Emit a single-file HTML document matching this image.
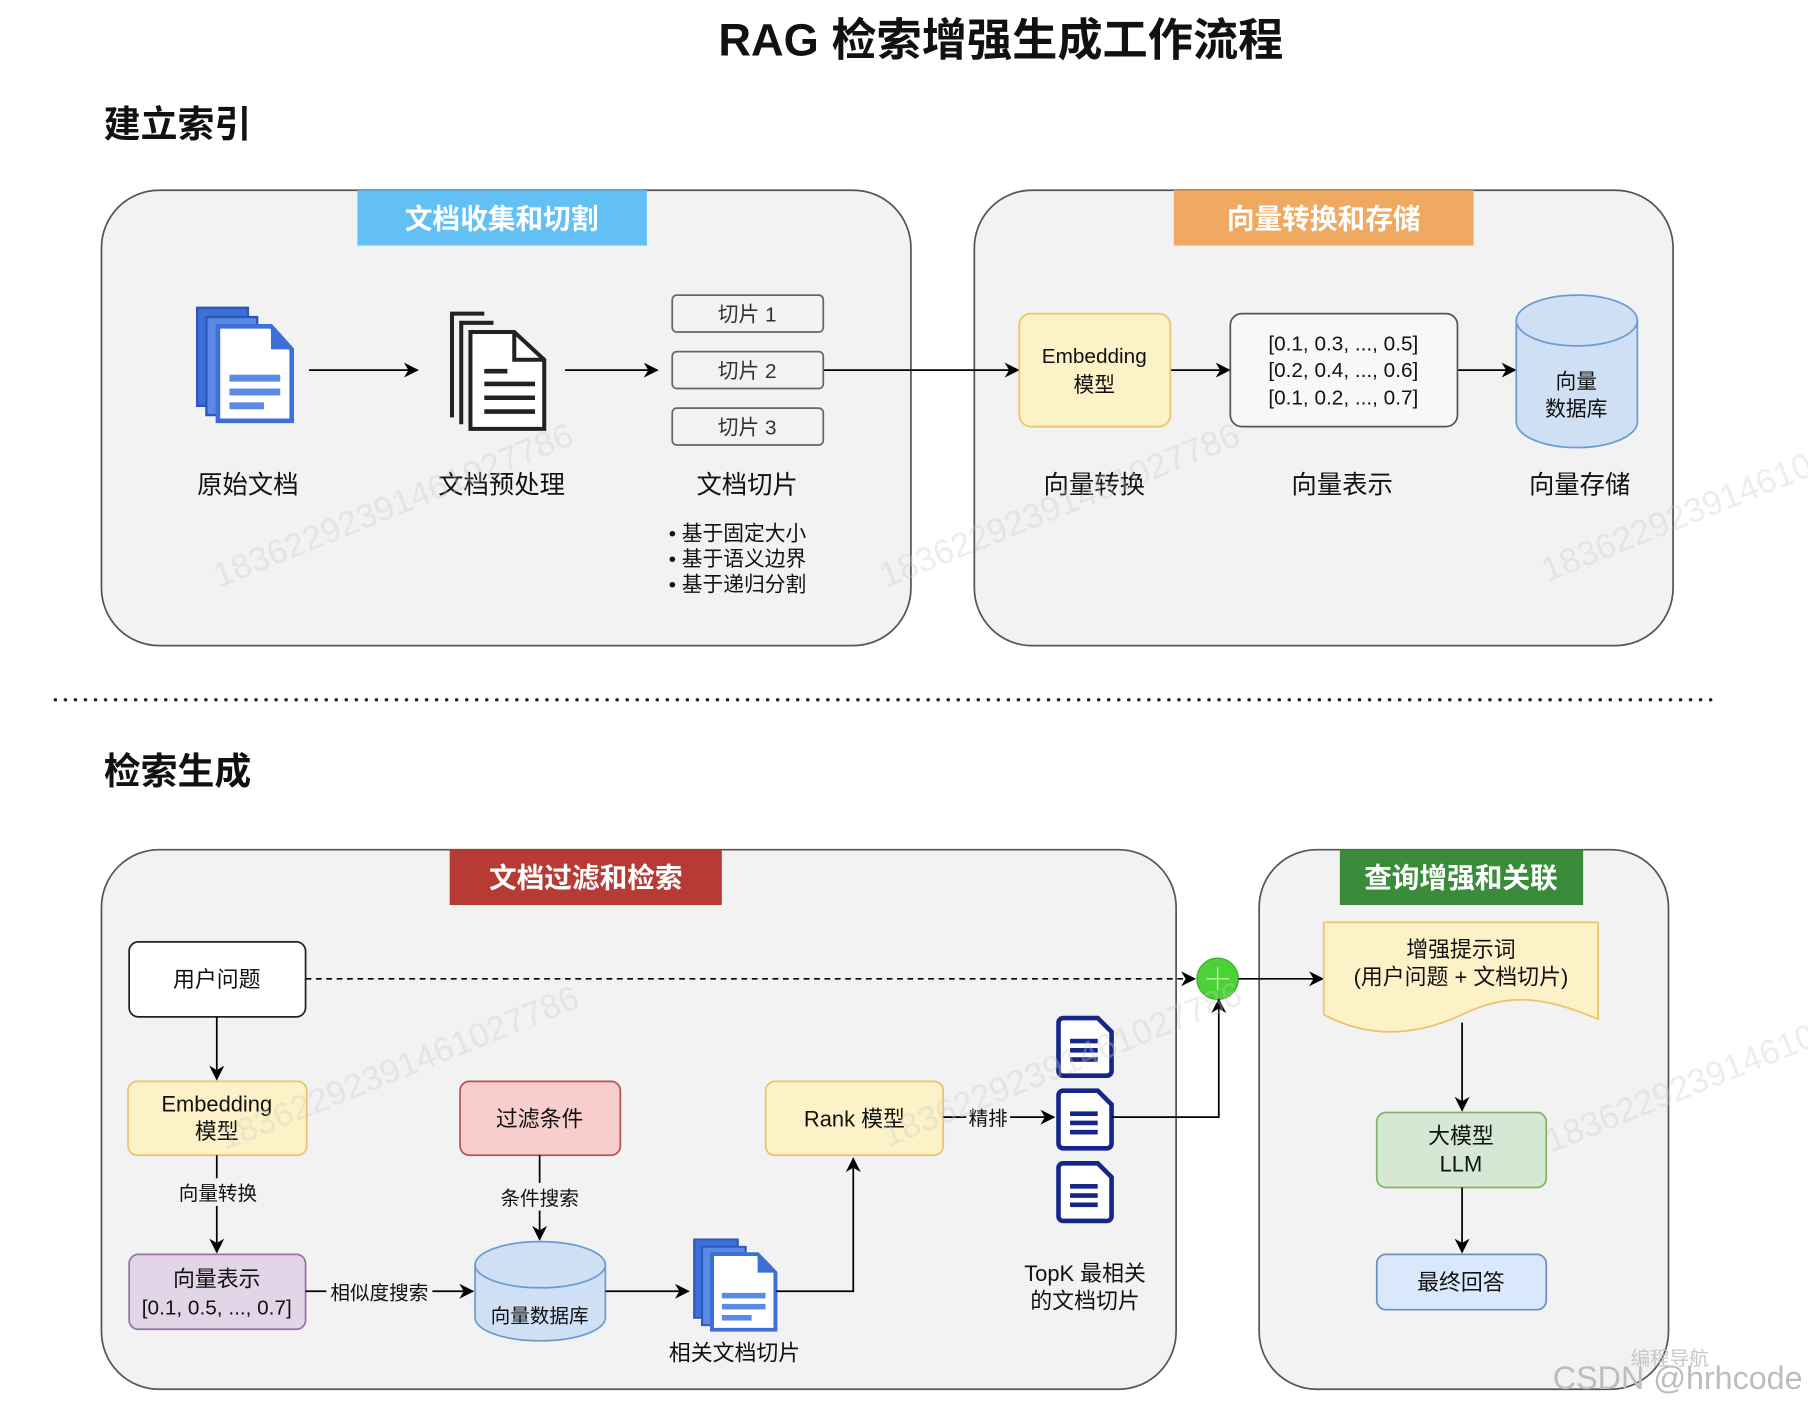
<!DOCTYPE html>
<html><head><meta charset="utf-8"><style>
html,body{margin:0;padding:0;background:#fff;width:1808px;height:1410px;overflow:hidden}
svg{display:block}
text{font-family:"Liberation Sans","Noto Sans CJK SC",sans-serif;fill:#111}
</style></head><body>
<svg width="1808" height="1410" viewBox="0 0 1568 1223" preserveAspectRatio="none" xmlns="http://www.w3.org/2000/svg">
<defs>
<marker id="ar2" viewBox="0 0 10 10" refX="9" refY="5" markerWidth="13" markerHeight="13" orient="auto" markerUnits="userSpaceOnUse"><path d="M0,0 L10,5 L0,10 L3,5 z" fill="#000"/></marker>
<g id="bdoc">
<path d="M0,0 h44 l0,85 h-44z" fill="#3d6fd6" stroke="#2a56b8" stroke-width="2"/>
<path d="M8,8 h44 l0,85 h-44z" fill="#5a8ae6" stroke="#2a56b8" stroke-width="2"/>
<path d="M18,16 h46 l18,20 v62 h-64z" fill="#fff" stroke="#3d6fd6" stroke-width="4"/>
<path d="M64,16 v20 h18z" fill="#3d6fd6"/>
<rect x="28" y="58" width="44" height="6" fill="#5a8ae6"/><rect x="28" y="70" width="44" height="6" fill="#5a8ae6"/><rect x="28" y="82" width="30" height="6" fill="#5a8ae6"/>
</g>
<g id="ndoc">
<path d="M0,4 a4,4 0 0 1 4,-4 h30 l12,12 v34 a4,4 0 0 1 -4,4 h-38 a4,4 0 0 1 -4,-4z" fill="#fff" stroke="#15268a" stroke-width="4"/>
<rect x="10" y="18" width="24" height="4" fill="#15268a"/><rect x="10" y="26" width="24" height="4" fill="#15268a"/><rect x="10" y="34" width="24" height="4" fill="#15268a"/>
</g>
</defs>
<text x="868" y="48" text-anchor="middle" font-size="39" font-weight="bold" textLength="490" lengthAdjust="spacingAndGlyphs">RAG 检索增强生成工作流程</text>
<text x="90" y="119" font-size="32" font-weight="bold">建立索引</text>
<text x="90" y="680" font-size="32" font-weight="bold">检索生成</text>

<rect x="88" y="165" width="702" height="395" rx="50" fill="#f2f2f2" stroke="#555" stroke-width="1.5"/>
<rect x="845" y="165" width="606" height="395" rx="50" fill="#f2f2f2" stroke="#555" stroke-width="1.5"/>
<rect x="310" y="165" width="251" height="48" fill="#63c0f5"/>
<text x="435" y="198" text-anchor="middle" font-size="24" font-weight="bold" style="fill:#fff">文档收集和切割</text>
<rect x="1018" y="165" width="260" height="48" fill="#f0a960"/>
<text x="1148" y="198" text-anchor="middle" font-size="24" font-weight="bold" style="fill:#fff">向量转换和存储</text>

<use href="#bdoc" x="171" y="267"/>
<g fill="none" stroke="#222" stroke-width="3.5">
<path d="M392,362 V272 h28"/><path d="M400,368 V280 h28"/>
<path d="M408,288 h38 l26,24 v60 h-64z" fill="#fff"/><path d="M446,288 v24 h26"/>
</g>
<g stroke="#222" stroke-width="4"><line x1="420" y1="322" x2="440" y2="322"/><line x1="420" y1="333" x2="464" y2="333"/><line x1="420" y1="345" x2="464" y2="345"/><line x1="420" y1="357" x2="464" y2="357"/></g>

<g stroke="#000" stroke-width="1.5" fill="none">
<line x1="268" y1="321" x2="362" y2="321" marker-end="url(#ar2)"/>
<line x1="490" y1="321" x2="570" y2="321" marker-end="url(#ar2)"/>
<line x1="714" y1="321" x2="883" y2="321" marker-end="url(#ar2)"/>
<line x1="1015" y1="321" x2="1066" y2="321" marker-end="url(#ar2)"/>
<line x1="1264" y1="321" x2="1314" y2="321" marker-end="url(#ar2)"/>
</g>
<g fill="#f2f2f2" stroke="#666" stroke-width="1.5">
<rect x="583" y="256" width="131" height="32" rx="4"/><rect x="583" y="305" width="131" height="32" rx="4"/><rect x="583" y="354" width="131" height="32" rx="4"/>
</g>
<g font-size="18" text-anchor="middle"><text x="648" y="279" style="fill:#333">切片 1</text><text x="648" y="328" style="fill:#333">切片 2</text><text x="648" y="377" style="fill:#333">切片 3</text></g>

<rect x="884" y="272" width="131" height="98" rx="10" fill="#fdf1c8" stroke="#e8c46a" stroke-width="1.5"/>
<text x="949" y="315" text-anchor="middle" font-size="18">Embedding</text><text x="949" y="340" text-anchor="middle" font-size="18">模型</text>
<rect x="1067" y="272" width="197" height="98" rx="10" fill="#f8f8f8" stroke="#555" stroke-width="1.5"/>
<g font-size="18" text-anchor="middle"><text x="1165" y="304">[0.1, 0.3, ..., 0.5]</text><text x="1165" y="327">[0.2, 0.4, ..., 0.6]</text><text x="1165" y="351">[0.1, 0.2, ..., 0.7]</text></g>
<path d="M1315,278 V366 a52,22 0 0 0 105,0 V278" fill="#cfe0f5" stroke="#6c9bd2" stroke-width="1.5"/>
<ellipse cx="1367.5" cy="278" rx="52.5" ry="22" fill="#cfe0f5" stroke="#6c9bd2" stroke-width="1.5"/>
<text x="1367" y="337" text-anchor="middle" font-size="18">向量</text><text x="1367" y="361" text-anchor="middle" font-size="18">数据库</text>

<g font-size="22" text-anchor="middle"><text x="215" y="428">原始文档</text><text x="435" y="428">文档预处理</text><text x="648" y="428">文档切片</text><text x="949" y="428">向量转换</text><text x="1164" y="428">向量表示</text><text x="1370" y="428">向量存储</text></g>
<g font-size="18"><text x="580" y="469">• 基于固定大小</text><text x="580" y="491">• 基于语义边界</text><text x="580" y="513">• 基于递归分割</text></g>

<line x1="48" y1="607" x2="1487" y2="607" stroke="#222" stroke-width="3" stroke-dasharray="0.1 8.6" stroke-linecap="round"/>

<rect x="88" y="737" width="932" height="468" rx="50" fill="#f2f2f2" stroke="#555" stroke-width="1.5"/>
<rect x="1092" y="737" width="355" height="468" rx="50" fill="#f2f2f2" stroke="#555" stroke-width="1.5"/>
<rect x="390" y="737" width="236" height="48" fill="#b83a34"/>
<text x="508" y="770" text-anchor="middle" font-size="24" font-weight="bold" style="fill:#fff">文档过滤和检索</text>
<rect x="1162" y="737" width="211" height="48" fill="#3a8c3a"/>
<text x="1267" y="770" text-anchor="middle" font-size="24" font-weight="bold" style="fill:#fff">查询增强和关联</text>

<rect x="112" y="817" width="153" height="65" rx="8" fill="#fff" stroke="#222" stroke-width="1.5"/>
<text x="188" y="856" text-anchor="middle" font-size="19">用户问题</text>
<line x1="265" y1="849" x2="1036" y2="849" stroke="#000" stroke-width="1.5" stroke-dasharray="5 4" marker-end="url(#ar2)"/>
<circle cx="1056" cy="849" r="18" fill="#4cd137" stroke="#3aa82a"/>
<path d="M1046,849 h20 M1056,839 v20" stroke="#b8f0a8" stroke-width="1.2"/>
<line x1="1074" y1="849" x2="1147" y2="849" stroke="#000" stroke-width="1.5" marker-end="url(#ar2)"/>
<path d="M1148,800 H1386 V884 C1340,865 1310,860 1268,880 C1225,900 1185,900 1148,880 Z" fill="#fdf1c8" stroke="#e8c46a" stroke-width="1.5"/>
<text x="1267" y="830" text-anchor="middle" font-size="19">增强提示词</text>
<text x="1267" y="854" text-anchor="middle" font-size="19">(用户问题 + 文档切片)</text>
<line x1="1268" y1="887" x2="1268" y2="963" stroke="#000" stroke-width="1.5" marker-end="url(#ar2)"/>
<rect x="1194" y="965" width="147" height="65" rx="8" fill="#d5e8d4" stroke="#82b366" stroke-width="1.5"/>
<text x="1267" y="992" text-anchor="middle" font-size="19">大模型</text><text x="1267" y="1016" text-anchor="middle" font-size="19">LLM</text>
<line x1="1268" y1="1030" x2="1268" y2="1086" stroke="#000" stroke-width="1.5" marker-end="url(#ar2)"/>
<rect x="1194" y="1088" width="147" height="48" rx="8" fill="#dae8fc" stroke="#6c8ebf" stroke-width="1.5"/>
<text x="1267" y="1119" text-anchor="middle" font-size="19">最终回答</text>

<line x1="188" y1="882" x2="188" y2="936" stroke="#000" stroke-width="1.5" marker-end="url(#ar2)"/>
<rect x="111" y="938" width="155" height="64" rx="8" fill="#fdf1c8" stroke="#e8c46a" stroke-width="1.5"/>
<text x="188" y="964" text-anchor="middle" font-size="19">Embedding</text><text x="188" y="988" text-anchor="middle" font-size="19">模型</text>
<line x1="188" y1="1002" x2="188" y2="1086" stroke="#000" stroke-width="1.5" marker-end="url(#ar2)"/>
<rect x="150" y="1022" width="78" height="24" fill="#f2f2f2"/>
<text x="189" y="1041" text-anchor="middle" font-size="17">向量转换</text>
<rect x="112" y="1088" width="153" height="65" rx="8" fill="#e1d5e7" stroke="#9673a6" stroke-width="1.5"/>
<text x="188" y="1116" text-anchor="middle" font-size="19">向量表示</text><text x="188" y="1140" text-anchor="middle" font-size="18">[0.1, 0.5, ..., 0.7]</text>
<line x1="265" y1="1120" x2="410" y2="1120" stroke="#000" stroke-width="1.5" marker-end="url(#ar2)"/>
<rect x="283" y="1108" width="92" height="24" fill="#f2f2f2"/>
<text x="329" y="1127" text-anchor="middle" font-size="17">相似度搜索</text>

<rect x="399" y="938" width="139" height="64" rx="8" fill="#f8cecc" stroke="#b85450" stroke-width="1.5"/>
<text x="468" y="977" text-anchor="middle" font-size="19">过滤条件</text>
<line x1="468" y1="1002" x2="468" y2="1075" stroke="#000" stroke-width="1.5" marker-end="url(#ar2)"/>
<rect x="430" y="1026" width="76" height="24" fill="#f2f2f2"/>
<text x="468" y="1045" text-anchor="middle" font-size="17">条件搜索</text>
<path d="M412,1097 V1143 a56.5,20 0 0 0 113,0 V1097" fill="#cfe0f5" stroke="#6c9bd2" stroke-width="1.5"/>
<ellipse cx="468.5" cy="1097" rx="56.5" ry="20" fill="#cfe0f5" stroke="#6c9bd2" stroke-width="1.5"/>
<text x="468" y="1147" text-anchor="middle" font-size="17">向量数据库</text>
<line x1="525" y1="1120" x2="597" y2="1120" stroke="#000" stroke-width="1.5" marker-end="url(#ar2)"/>
<g transform="translate(602,1075) scale(0.86,0.8)"><use href="#bdoc"/></g>
<text x="637" y="1180" text-anchor="middle" font-size="19">相关文档切片</text>
<polyline points="673,1120 740,1120 740,1005" fill="none" stroke="#000" stroke-width="1.5" marker-end="url(#ar2)"/>

<rect x="664" y="938" width="154" height="64" rx="8" fill="#fdf1c8" stroke="#e8c46a" stroke-width="1.5"/>
<text x="741" y="977" text-anchor="middle" font-size="19">Rank 模型</text>
<line x1="818" y1="969" x2="914" y2="969" stroke="#000" stroke-width="1.5" marker-end="url(#ar2)"/>
<rect x="838" y="958" width="38" height="22" fill="#f2f2f2"/>
<text x="857" y="976" text-anchor="middle" font-size="17">精排</text>
<use href="#ndoc" x="918" y="883"/><use href="#ndoc" x="918" y="946"/><use href="#ndoc" x="918" y="1009"/>
<polyline points="964,969 1057,969 1057,867" fill="none" stroke="#000" stroke-width="1.5" marker-end="url(#ar2)"/>
<text x="941" y="1111" text-anchor="middle" font-size="19">TopK 最相关</text>
<text x="941" y="1135" text-anchor="middle" font-size="19">的文档切片</text>

<g font-size="30" opacity="0.35">
<text x="190" y="510" transform="rotate(-22 190 510)" style="fill:#ccc">18362292391461027786</text>
<text x="768" y="510" transform="rotate(-22 768 510)" style="fill:#ccc">18362292391461027786</text>
<text x="1342" y="505" transform="rotate(-22 1342 505)" style="fill:#ccc">18362292391461027</text>
<text x="195" y="998" transform="rotate(-22 195 998)" style="fill:#ccc">18362292391461027786</text>
<text x="770" y="995" transform="rotate(-22 770 995)" style="fill:#ccc">18362292391461027786</text>
<text x="1345" y="1000" transform="rotate(-22 1345 1000)" style="fill:#ccc">18362292391461027</text>
</g>

<text x="1448" y="1184" text-anchor="middle" font-size="17" style="fill:#c8c8c8">编程导航</text>
<text x="1455" y="1205" text-anchor="middle" font-size="28" style="fill:#bdbdbd">CSDN @hrhcode</text>
</svg>
</body></html>
